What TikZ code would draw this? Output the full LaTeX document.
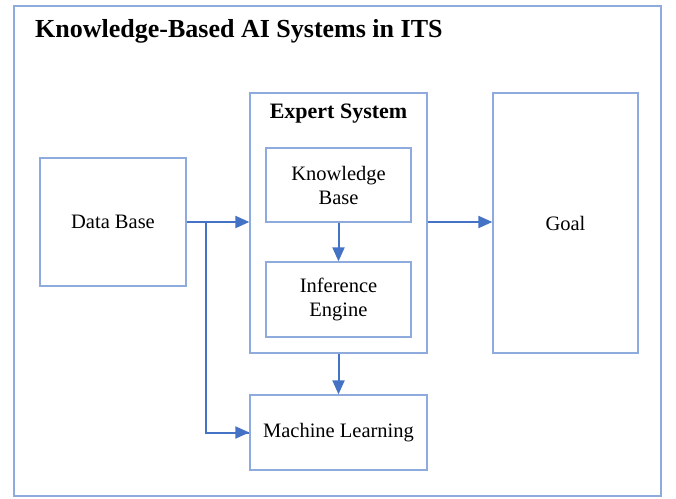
\documentclass[tikz,border=0pt]{standalone}
\usepackage{fontspec}
\setmainfont{Liberation Serif}
\usetikzlibrary{arrows.meta}
\definecolor{boxblue}{HTML}{8FAADC}
\definecolor{arrblue}{HTML}{4472C4}
\begin{document}
\begin{tikzpicture}[x=1pt,y=-1pt,
  box/.style={draw=boxblue,line width=1.3pt,rectangle,inner sep=0pt,align=center,
    font=\fontsize{20.5}{24}\selectfont,text=black},
  arr/.style={draw=arrblue,line width=2pt,-{Triangle[length=14pt,width=12pt]}},
  ln/.style={draw=arrblue,line width=2pt}]
\useasboundingbox (0,0) rectangle (676,498);
\node[draw=boxblue,line width=1.3pt,minimum width=647pt,minimum height=490pt,inner sep=0pt] (frame) at (337.5,251) {};
\node[anchor=base west,inner sep=0pt,font=\fontsize{26}{30}\selectfont\bfseries] (title) at (35,37) {Knowledge-Based AI Systems in ITS};
\node[box,minimum width=146pt,minimum height=128pt] (db) at (113,222) {Data Base};
\node[box,minimum width=177pt,minimum height=260pt] (exp) at (338.5,223) {};
\node[anchor=base,inner sep=0pt,font=\fontsize{22}{24}\selectfont\bfseries] (exptitle) at (338.5,118) {Expert System};
\node[box,minimum width=145pt,minimum height=74pt] (kb) at (338.5,185) {Knowledge\\Base};
\node[box,minimum width=145pt,minimum height=75pt] (ie) at (338.5,299.5) {Inference\\Engine};
\node[box,minimum width=145pt,minimum height=260pt] (goal) at (565.5,223) {Goal};
\node[box,minimum width=177pt,minimum height=75pt] (ml) at (338.5,432.5) {Machine Learning};
\coordinate (br) at (206,222);
\draw[arr] (db.east) -- (db.east -| exp.west);
\draw[ln] (br) |- (ml.west);
\draw[arr] (br |- ml.west) -- (ml.west);
\draw[arr] (kb.south) -- (ie.north);
\draw[arr] (exp.south) -- (ml.north);
\draw[arr] (db.east -| exp.east) -- (db.east -| goal.west);
\end{tikzpicture}
\end{document}
